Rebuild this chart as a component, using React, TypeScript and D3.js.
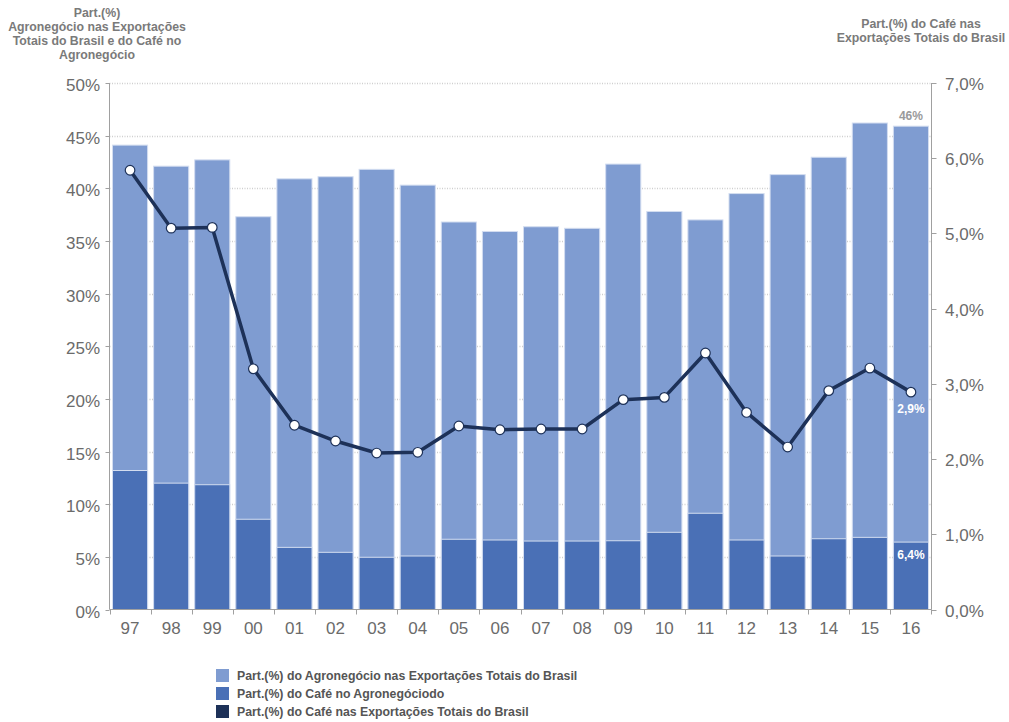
import { useEffect, useRef } from "react";
import * as d3 from "d3";

const years = ["97", "98", "99", "00", "01", "02", "03", "04", "05", "06", "07", "08", "09", "10", "11", "12", "13", "14", "15", "16"];
// Part.(%) do Agronegócio nas Exportações Totais do Brasil
const agroShare = [44.1, 42.1, 42.7, 37.3, 40.9, 41.1, 41.8, 40.3, 36.8, 35.9, 36.35, 36.2, 42.3, 37.8, 37.0, 39.5, 41.3, 42.95, 46.2, 45.9];
// Part.(%) do Café no Agronegócio
const cafeInAgro = [13.2, 12.0, 11.85, 8.57, 5.9, 5.43, 4.96, 5.08, 6.67, 6.6, 6.5, 6.5, 6.53, 7.33, 9.14, 6.6, 5.08, 6.72, 6.85, 6.4];
// Part.(%) do Café nas Exportações Totais do Brasil
const cafeInTotal = [5.84, 5.07, 5.08, 3.2, 2.45, 2.24, 2.08, 2.09, 2.44, 2.39, 2.4, 2.4, 2.79, 2.82, 3.41, 2.62, 2.16, 2.91, 3.21, 2.89];

const leftTicks = [0, 5, 10, 15, 20, 25, 30, 35, 40, 45, 50];
const rightTicks = [0, 1, 2, 3, 4, 5, 6, 7];

const legendItems = [
  { label: "Part.(%) do Agronegócio nas Exportações Totais do Brasil", color: "#7f9cd1" },
  { label: "Part.(%) do Café no Agronegóciodo", color: "#4a70b6" },
  { label: "Part.(%) do Café nas Exportações Totais do Brasil", color: "#1d3158" },
];

const FONT = "'Liberation Sans', Arial, Helvetica, sans-serif";

const App = () => {
  const ref = useRef<SVGSVGElement | null>(null);

  useEffect(() => {
    const el = ref.current;
    if (!el) return;
    const svg = d3.select(el);
    svg.selectAll("*").remove();

    const left = 109.5, right = 931.5, top = 83, bottom = 609.5;

    const x = d3.scaleBand<string>().domain(years).range([left, right]).padding(0);
    const yL = d3.scaleLinear().domain([0, 50]).range([bottom, top]);
    const yR = d3.scaleLinear().domain([0, 7]).range([bottom, top]);

    // ── Grid ─────────────────────────────────────────────
    svg.append("g")
      .selectAll("line")
      .data(leftTicks.filter(t => t > 0))
      .enter()
      .append("line")
      .attr("x1", left).attr("x2", right)
      .attr("y1", d => Math.round(yL(d)) + 0.5).attr("y2", d => Math.round(yL(d)) + 0.5)
      .style("stroke", "#cfcfcf")
      .style("stroke-width", 1.5)
      .style("stroke-dasharray", "1,1.5");

    // ── Bars ─────────────────────────────────────────────
    const inset = 3;
    const bw = x.bandwidth() - inset * 2;

    svg.append("g")
      .selectAll("rect")
      .data(years)
      .enter()
      .append("rect")
      .attr("x", d => (x(d) as number) + inset)
      .attr("y", (_, i) => yL(agroShare[i]))
      .attr("width", bw)
      .attr("height", (_, i) => bottom - yL(agroShare[i]))
      .attr("fill", "#7f9cd1")
      .attr("stroke", "#d3ddf0")
      .attr("stroke-width", 1);

    svg.append("g")
      .selectAll("rect")
      .data(years)
      .enter()
      .append("rect")
      .attr("x", d => (x(d) as number) + inset)
      .attr("y", (_, i) => yL(cafeInAgro[i]))
      .attr("width", bw)
      .attr("height", (_, i) => bottom - yL(cafeInAgro[i]))
      .attr("fill", "#4a70b6")
      .attr("stroke", "#d3ddf0")
      .attr("stroke-width", 1);

    // ── Line ─────────────────────────────────────────────
    const cx = (i: number) => (x(years[i]) as number) + x.bandwidth() / 2;
    const line = d3.line<number>()
      .x((_, i) => cx(i))
      .y(d => yR(d));

    svg.append("path")
      .datum(cafeInTotal)
      .attr("d", line)
      .attr("fill", "none")
      .attr("stroke", "#1d3158")
      .attr("stroke-width", 3.5)
      .attr("stroke-linejoin", "round");

    svg.append("g")
      .selectAll("circle")
      .data(cafeInTotal)
      .enter()
      .append("circle")
      .attr("cx", (_, i) => cx(i))
      .attr("cy", d => yR(d))
      .attr("r", 4.8)
      .attr("fill", "#fff")
      .attr("stroke", "#1d3158")
      .attr("stroke-width", 1.2);

    // ── Axes ─────────────────────────────────────────────
    const axisColor = "#a0a0a0";
    const tickText = "#6b6b6b";

    svg.append("line")
      .attr("x1", left).attr("x2", left).attr("y1", top).attr("y2", bottom)
      .style("stroke", axisColor);
    svg.append("line")
      .attr("x1", right).attr("x2", right).attr("y1", top).attr("y2", bottom)
      .style("stroke", axisColor);
    svg.append("line")
      .attr("x1", left).attr("x2", right).attr("y1", bottom).attr("y2", bottom)
      .style("stroke", axisColor);

    const lg = svg.append("g");
    leftTicks.forEach(t => {
      const yy = Math.round(yL(t)) + 0.5;
      lg.append("line").attr("x1", left - 4).attr("x2", left).attr("y1", yy).attr("y2", yy).style("stroke", axisColor);
      lg.append("text")
        .attr("x", 100).attr("y", yy + 7.5)
        .attr("text-anchor", "end")
        .style("font-family", FONT).style("font-size", "17px").style("fill", tickText)
        .text(`${t}%`);
    });

    const rg = svg.append("g");
    rightTicks.forEach(t => {
      const yy = Math.round(yR(t)) + 0.5;
      rg.append("line").attr("x1", right).attr("x2", right + 5).attr("y1", yy).attr("y2", yy).style("stroke", axisColor);
      rg.append("text")
        .attr("x", 945).attr("y", yy + 6)
        .attr("text-anchor", "start")
        .style("font-family", FONT).style("font-size", "17px").style("fill", tickText)
        .text(`${t.toFixed(1).replace(".", ",")}%`);
    });

    const bg = svg.append("g");
    years.forEach((yr, i) => {
      const x0 = Math.round(x(yr) as number) + 0.5;
      bg.append("line").attr("x1", x0).attr("x2", x0).attr("y1", bottom).attr("y2", bottom + 5).style("stroke", axisColor);
      if (i === years.length - 1) {
        bg.append("line").attr("x1", right).attr("x2", right).attr("y1", bottom).attr("y2", bottom + 5).style("stroke", axisColor);
      }
      bg.append("text")
        .attr("x", cx(i)).attr("y", 634)
        .attr("text-anchor", "middle")
        .style("font-family", FONT).style("font-size", "17px").style("fill", tickText)
        .text(yr);
    });

    // ── Data labels ──────────────────────────────────────
    const last = years.length - 1;
    svg.append("text")
      .attr("x", cx(last)).attr("y", yL(agroShare[last]) - 6)
      .attr("text-anchor", "middle")
      .style("font-family", FONT).style("font-size", "12px").style("font-weight", "700").style("fill", "#9a9a9a")
      .text(`${Math.round(agroShare[last])}%`);
    svg.append("text")
      .attr("x", cx(last)).attr("y", yR(cafeInTotal[last]) + 21)
      .attr("text-anchor", "middle")
      .style("font-family", FONT).style("font-size", "12px").style("font-weight", "700").style("fill", "#fff")
      .text(`${cafeInTotal[last].toFixed(1).replace(".", ",")}%`);
    svg.append("text")
      .attr("x", cx(last)).attr("y", yL(cafeInAgro[last]) + 17)
      .attr("text-anchor", "middle")
      .style("font-family", FONT).style("font-size", "12px").style("font-weight", "700").style("fill", "#fff")
      .text(`${cafeInAgro[last].toFixed(1).replace(".", ",")}%`);

    // ── Axis titles ──────────────────────────────────────
    const titleStyle = (t: d3.Selection<SVGTextElement, unknown, null, undefined>) =>
      t.style("font-family", FONT).style("font-size", "12.3px").style("font-weight", "700").style("fill", "#7a7a7a").attr("text-anchor", "middle");

    const leftTitle = ["Part.(%)", "Agronegócio nas Exportações", "Totais do Brasil e do Café no", "Agronegócio"];
    leftTitle.forEach((s, i) => {
      svg.append("text").attr("x", 97).attr("y", 17 + i * 14).call(titleStyle).text(s);
    });
    const rightTitle = ["Part.(%) do Café nas", "Exportações Totais do Brasil"];
    rightTitle.forEach((s, i) => {
      svg.append("text").attr("x", 921).attr("y", 28 + i * 14).call(titleStyle).text(s);
    });

    // ── Legend ───────────────────────────────────────────
    legendItems.forEach((d, i) => {
      const yy = 676 + i * 18;
      svg.append("rect")
        .attr("x", 216).attr("y", yy - 7).attr("width", 13).attr("height", 13)
        .attr("fill", d.color);
      svg.append("text")
        .attr("x", 237).attr("y", yy + 4)
        .style("font-family", FONT).style("font-size", "12.3px").style("font-weight", "700").style("fill", "#555")
        .text(d.label);
    });

    return () => { svg.selectAll("*").remove(); };
  }, []);

  return (
    <svg
      ref={ref}
      width={1009}
      height={722}
      style={{ position: "absolute", left: 0, top: 0, display: "block", background: "#fff" }}
    />
  );
};

export default App;
